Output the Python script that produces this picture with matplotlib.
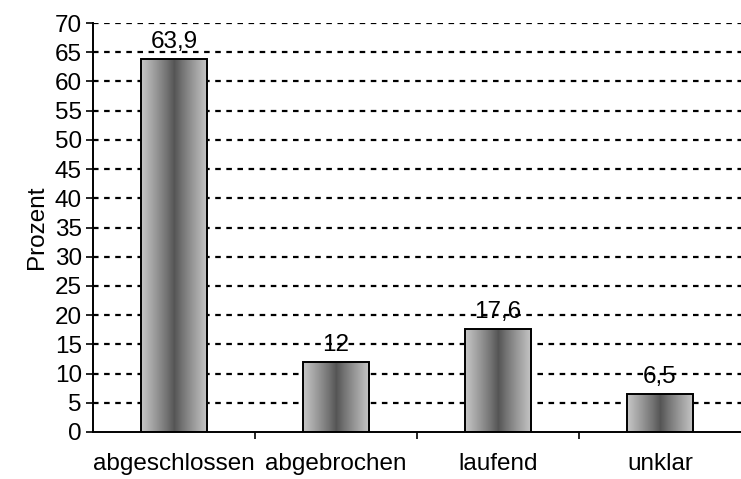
import numpy as np
import matplotlib
matplotlib.use("Agg")
import matplotlib.pyplot as plt

categories = ["abgeschlossen", "abgebrochen", "laufend", "unklar"]
values = [63.9, 12, 17.6, 6.5]
value_labels = ["63,9", "12", "17,6", "6,5"]
yticks = list(range(0, 75, 5))

plt.rcParams['font.family'] = ['Liberation Sans', 'DejaVu Sans']
plt.rcParams['font.size'] = 17.5

fig = plt.figure(figsize=(7.41, 4.79), dpi=100)
ax = fig.add_axes([93 / 741, 47 / 479, 648 / 741, 409 / 479])

x = np.arange(len(categories))
bars = ax.bar(x, values, width=0.41, facecolor='none', edgecolor='black', linewidth=1.4, zorder=3)

# cylinder-like shading: light edges, dark middle
t = np.linspace(-1, 1, 256)
shade = 0.33 + 0.45 * np.abs(t) ** 0.9
grad = np.tile(shade, (2, 1))
for b in bars:
    bx, by = b.get_x(), b.get_y()
    im = ax.imshow(grad, cmap='gray', vmin=0, vmax=1, aspect='auto',
                   extent=[bx, bx + b.get_width(), by, by + b.get_height()],
                   interpolation='bilinear', zorder=2)
    im.set_clip_path(b)

for xi, v, lab in zip(x, values, value_labels):
    ax.text(xi, v + 1.0, lab, ha='center', va='bottom', zorder=4)

ax.set_xlim(-0.5, len(categories) - 0.5)
ax.set_ylim(0, 70)
ax.set_yticks(yticks)
ax.set_xticks(x)
ax.set_xticklabels(categories)
ax.tick_params(axis='x', length=0, pad=15)
ax.set_xticks(np.arange(0.5, len(categories) - 0.5, 1), minor=True)
ax.tick_params(axis='x', which='minor', length=5, direction='out', width=1.2)
ax.tick_params(axis='y', length=5, width=1.2, pad=3)

for yv in yticks[1:]:
    ax.axhline(yv, color='black', linestyle=(0, (2.5, 2.5)), linewidth=1.6, zorder=1)

ax.spines['top'].set_visible(False)
ax.spines['right'].set_visible(False)
ax.spines['left'].set_linewidth(1.4)
ax.spines['bottom'].set_linewidth(1.4)
ax.set_ylabel("Prozent", labelpad=5)

fig.savefig("out.png", dpi=100)
